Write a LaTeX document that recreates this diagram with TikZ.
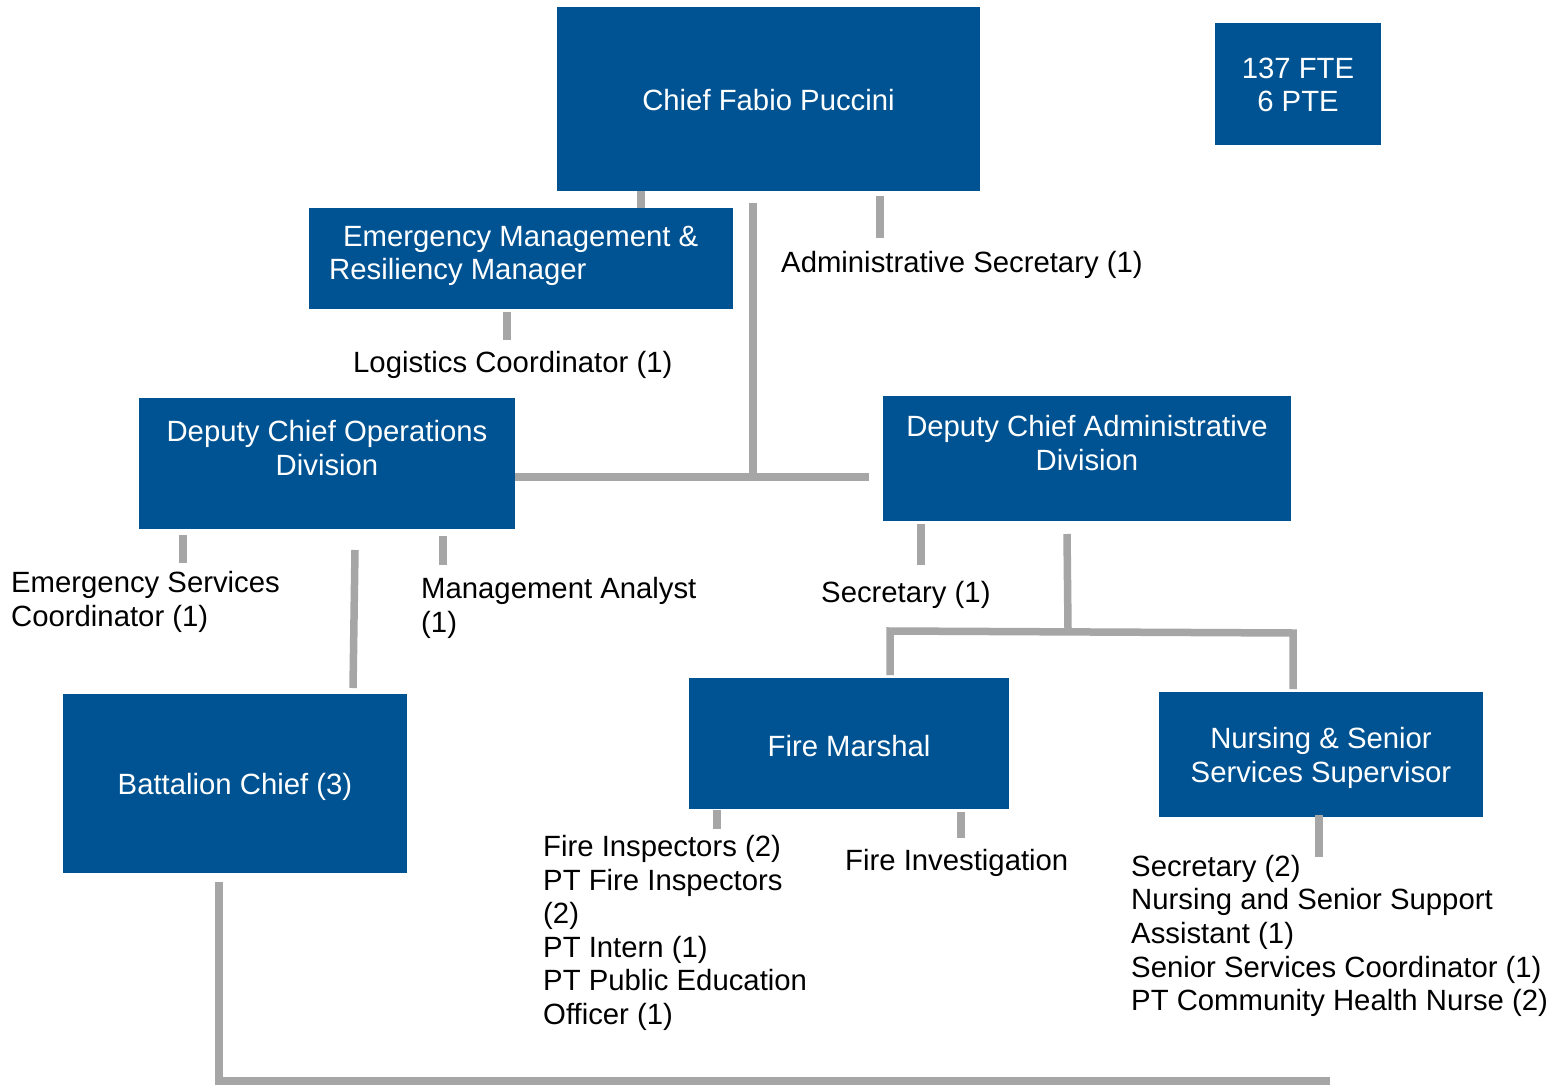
\documentclass[tikz,border=0pt]{standalone}
\usepackage{fontspec}
\setmainfont{Liberation Sans}
\definecolor{boxblue}{RGB}{0,83,146}
\definecolor{conngray}{RGB}{166,166,166}
\newcommand{\orgfont}{\fontsize{29.3}{33.6}\selectfont}
\begin{document}
\begin{tikzpicture}[x=1pt,y=-1pt,
  box/.style={fill=boxblue, draw=none, text=white, inner sep=0pt, anchor=north west, align=center, font=\orgfont},
  boxtext/.style={text=white, inner sep=0pt, align=center, font=\orgfont},
  lbl/.style={text=black, inner sep=0pt, align=left, anchor=west, font=\orgfont},
  conn/.style={draw=conngray, line width=7.5pt, line join=miter}]
\fill[white] (0,0) rectangle (1554,1086);
\useasboundingbox (0,0) rectangle (1554,1086);

% boxes
\node[box, minimum width=423pt, minimum height=184pt] (chief) at (557,7) {};
\node[boxtext] (chieft) at (768.5,100) {Chief Fabio Puccini};
\node[box, minimum width=166pt, minimum height=122pt] (fte) at (1215,23) {};
\node[boxtext] (ftet) at (1298,85) {137 FTE\\6 PTE};
\node[box, minimum width=424pt, minimum height=101pt] (em) at (309,208) {};
\node[boxtext, anchor=west, align=left] (emt) at (329,256) {\hspace*{14pt}Emergency Management \&\\Resiliency Manager};
\node[box, minimum width=376pt, minimum height=131pt] (dco) at (139,398) {};
\node[boxtext] (dcot) at (327,448) {Deputy Chief Operations\\Division};
\node[box, minimum width=408pt, minimum height=125pt] (dca) at (883,396) {};
\node[boxtext] (dcat) at (1087,443) {Deputy Chief Administrative\\Division};
\node[box, minimum width=344pt, minimum height=179pt] (bc) at (63,694) {};
\node[boxtext] (bct) at (235,787) {Battalion Chief (3)};
\node[box, minimum width=320pt, minimum height=131pt] (fm) at (689,678) {};
\node[boxtext] (fmt) at (849,746) {Fire Marshal};
\node[box, minimum width=324pt, minimum height=125pt] (nss) at (1159,692) {};
\node[boxtext] (nsst) at (1321,758) {Nursing \& Senior\\Services Supervisor};

% labels
\node[lbl] (admin) at (781,265) {Administrative Secretary (1)};
\node[lbl] (logi) at (353,365) {Logistics Coordinator (1)};
\node[lbl] (ems) at (11,602) {Emergency Services\\Coordinator (1)};
\node[lbl] (ma) at (421,608) {Management Analyst\\(1)};
\node[lbl] (sec1) at (821,595) {Secretary (1)};
\node[lbl] (fi) at (543,933) {Fire Inspectors (2)\\PT Fire Inspectors\\(2)\\PT Intern (1)\\PT Public Education\\Officer (1)};
\node[lbl] (finv) at (845,863) {Fire Investigation};
\node[lbl] (nsl) at (1131,936) {Secretary (2)\\Nursing and Senior Support\\Assistant (1)\\Senior Services Coordinator (1)\\PT Community Health Nurse (2)};

% coordinates
\coordinate (xa) at (641,0);
\coordinate (s1a) at (880,196); \coordinate (s1b) at (880,238);
\coordinate (mTop) at (753,203); \coordinate (jA) at (753,477); \coordinate (jB) at (869,477);
\coordinate (s2a) at (507,312); \coordinate (s2b) at (507,340);
\coordinate (s3a) at (183,535); \coordinate (s3b) at (183,563);
\coordinate (s4a) at (443,536); \coordinate (s4b) at (443,565);
\coordinate (s5a) at (355,550); \coordinate (s5b) at (353,688);
\coordinate (s6a) at (921,524); \coordinate (s6b) at (921,565);
\coordinate (s7a) at (1067,534); \coordinate (s7b) at (1068,629);
\coordinate (h1) at (890,675); \coordinate (h2) at (890,631); \coordinate (h3) at (1293,633); \coordinate (h4) at (1293,689);
\coordinate (s8a) at (717,810); \coordinate (s8b) at (717,829);
\coordinate (s9a) at (961,812); \coordinate (s9b) at (961,838);
\coordinate (s10a) at (1319,815); \coordinate (s10b) at (1319,857);
\coordinate (b1) at (219,882); \coordinate (b2) at (219,1081); \coordinate (b3) at (1330,1081);

% connectors
\draw[conn] (chief.south -| xa) -- (em.north -| xa);
\draw[conn] (s1a) -- (s1b);
\draw[conn] (mTop) -- (jA);
\draw[conn] (dco.east |- jA) -- (jB);
\draw[conn] (s2a) -- (s2b);
\draw[conn] (s3a) -- (s3b);
\draw[conn] (s4a) -- (s4b);
\draw[conn] (s5a) -- (s5b);
\draw[conn] (s6a) -- (s6b);
\draw[conn] (s7a) -- (s7b);
\draw[conn] (h1) -- (h2) -- (h3) -- (h4);
\draw[conn] (s8a) -- (s8b);
\draw[conn] (s9a) -- (s9b);
\draw[conn] (s10a) -- (s10b);
\draw[conn] (b1) -- (b2) -- (b3);
\end{tikzpicture}
\end{document}
